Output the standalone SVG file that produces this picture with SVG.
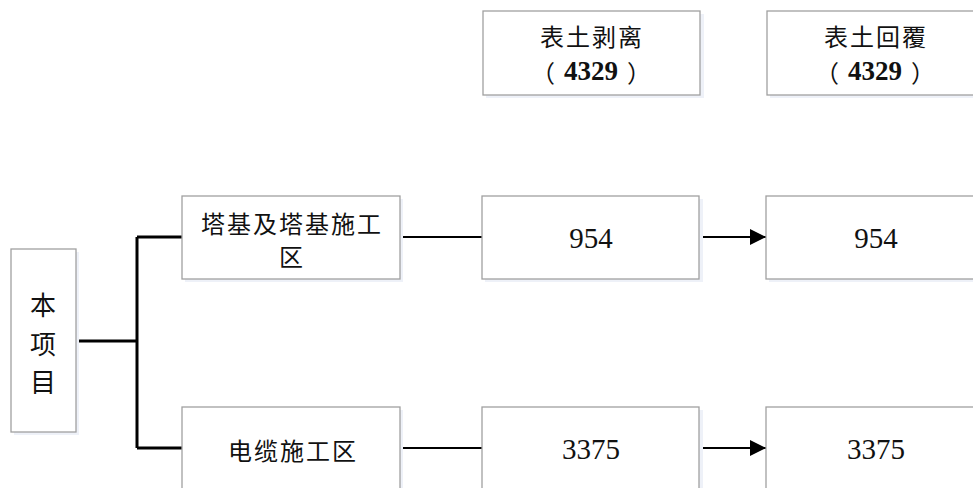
<svg xmlns="http://www.w3.org/2000/svg" width="973" height="488" viewBox="0 0 973 488">
<style>
.box{fill:#fff;stroke:#a0a0a0;stroke-width:1.3}
.sh{fill:#eef1f8}
.cn{font-family:"Noto Sans CJK SC","Noto Sans CJK JP",sans-serif;font-size:24px;fill:#111;text-anchor:middle;dominant-baseline:central;letter-spacing:2px}
.v{font-size:26px;letter-spacing:0}
.num{font-family:"Liberation Serif",serif;font-size:29px;fill:#111;text-anchor:middle;dominant-baseline:central}
.bold{font-family:"Liberation Serif",serif;font-weight:bold;font-size:27px;fill:#111;text-anchor:middle;dominant-baseline:central}
.par{font-family:"Noto Sans CJK SC",sans-serif;font-size:24px;fill:#111;text-anchor:middle;dominant-baseline:central}
.thick{stroke:#000;stroke-width:3;fill:none}
.thin{stroke:#000;stroke-width:2;fill:none}
</style>
<defs>
<marker id="arr" markerUnits="userSpaceOnUse" markerWidth="18" markerHeight="18" refX="16" refY="8" orient="auto">
<path d="M0,0 L16,8 L0,16 Z" fill="#000"/>
</marker>
</defs>
<g id="connectors">
<path class="thick" d="M76,341 H137 M137,237 V448 M137,237 H182 M137,448 H182"/>
<path class="thin" d="M400,237 H482 M400,448 H482"/>
<path class="thin" d="M699,237 H766" marker-end="url(#arr)"/>
<path class="thin" d="M699,448 H766" marker-end="url(#arr)"/>
</g>
<g id="node-project">
<rect class="sh" x="14" y="252" width="65" height="183"/>
<rect class="box" x="11" y="249" width="65" height="183"/>
<text class="cn v" x="43" y="303">本</text>
<text class="cn v" x="43" y="342">项</text>
<text class="cn v" x="43" y="380">目</text>
</g>
<g id="node-tower">
<rect class="sh" x="185" y="199" width="218" height="83"/>
<rect class="box" x="182" y="196" width="218" height="83"/>
<text class="cn" x="292" y="222">塔基及塔基施工</text>
<text class="cn" x="292" y="255">区</text>
</g>
<g id="node-cable">
<rect class="sh" x="185" y="410" width="218" height="83"/>
<rect class="box" x="182" y="407" width="218" height="83"/>
<text class="cn" x="293" y="449">电缆施工区</text>
</g>
<g id="node-strip-head">
<rect class="sh" x="486" y="14" width="218" height="84"/>
<rect class="box" x="483" y="11" width="217" height="84"/>
<text class="cn" x="592" y="35">表土剥离</text>
<text class="par" x="543" y="71">（</text>
<text class="bold" x="591" y="71">4329</text>
<text class="par" x="639" y="71">）</text>
</g>
<g id="node-cover-head">
<rect class="sh" x="770" y="14" width="218" height="84"/>
<rect class="box" x="767" y="11" width="217" height="84"/>
<text class="cn" x="876" y="35">表土回覆</text>
<text class="par" x="827" y="71">（</text>
<text class="bold" x="875" y="71">4329</text>
<text class="par" x="923" y="71">）</text>
</g>
<g id="node-strip-954">
<rect class="sh" x="485" y="199" width="218" height="83"/>
<rect class="box" x="482" y="196" width="217" height="83"/>
<text class="num" x="591" y="238">954</text>
</g>
<g id="node-cover-954">
<rect class="sh" x="769" y="199" width="218" height="83"/>
<rect class="box" x="766" y="196" width="218" height="83"/>
<text class="num" x="876" y="238">954</text>
</g>
<g id="node-strip-3375">
<rect class="sh" x="485" y="410" width="218" height="83"/>
<rect class="box" x="482" y="407" width="217" height="83"/>
<text class="num" x="591" y="449">3375</text>
</g>
<g id="node-cover-3375">
<rect class="sh" x="769" y="410" width="218" height="83"/>
<rect class="box" x="766" y="407" width="218" height="83"/>
<text class="num" x="876" y="449">3375</text>
</g>
</svg>
